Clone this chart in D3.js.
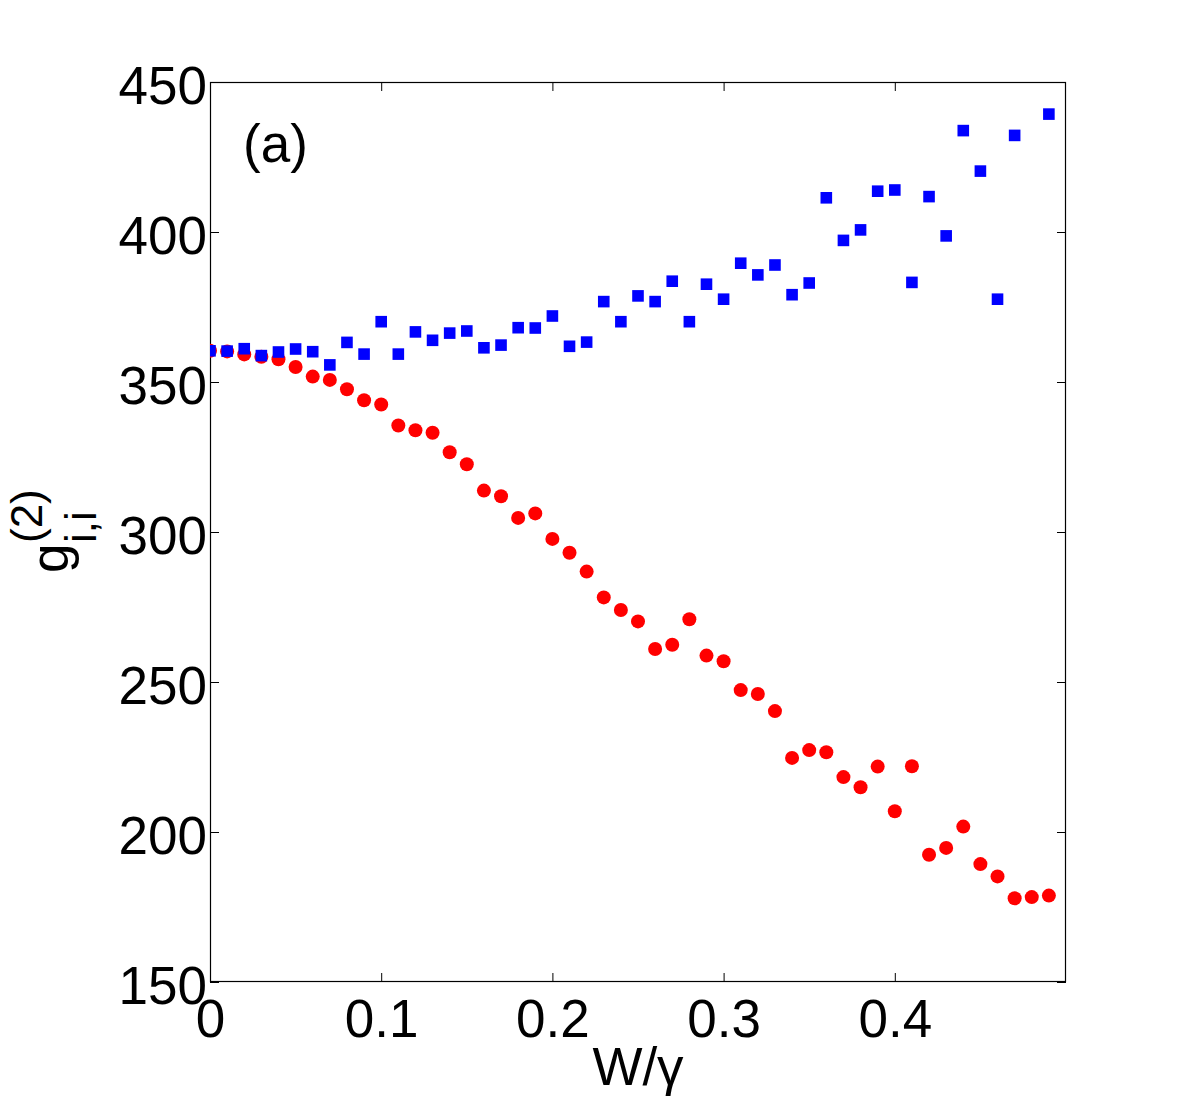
<!DOCTYPE html>
<html>
<head>
<meta charset="utf-8">
<script src="https://cdn.jsdelivr.net/npm/d3@7"></script>
<style>
  html, body { margin: 0; padding: 0; background: #fff; }
  svg { display: block; font-family: "Liberation Sans", Arial, Helvetica, sans-serif; }
</style>
</head>
<body>
<svg id="chart" width="1178" height="1104"></svg>
<script>
// ---- data ----
const xValues = [0.00, 0.01, 0.02, 0.03, 0.04, 0.05, 0.06, 0.07, 0.08, 0.09,
                 0.10, 0.11, 0.12, 0.13, 0.14, 0.15, 0.16, 0.17, 0.18, 0.19,
                 0.20, 0.21, 0.22, 0.23, 0.24, 0.25, 0.26, 0.27, 0.28, 0.29,
                 0.30, 0.31, 0.32, 0.33, 0.34, 0.35, 0.36, 0.37, 0.38, 0.39,
                 0.40, 0.41, 0.42, 0.43, 0.44, 0.45, 0.46, 0.47, 0.48, 0.49];
const blueSquares = [360.4, 360.3, 361.1, 358.8, 360.0, 361.0, 360.1, 355.7, 363.2, 359.3,
                     370.1, 359.3, 366.7, 363.9, 366.3, 367.0, 361.4, 362.3, 368.1, 368.0,
                     372.0, 361.9, 363.3, 376.8, 370.1, 378.7, 376.8, 383.6, 370.1, 382.6,
                     377.6, 389.6, 385.7, 389.0, 379.1, 383.0, 411.4, 397.2, 400.7, 413.6,
                     414.0, 383.2, 411.8, 398.7, 433.8, 420.3, 377.6, 432.2, null, 439.3];
const redCircles = [360.4, 360.2, 359.2, 358.4, 357.6, 355.0, 351.8, 350.7, 347.6, 343.9,
                    342.5, 335.5, 333.9, 333.1, 326.6, 322.6, 313.8, 311.9, 304.7, 306.2,
                    297.7, 293.1, 286.8, 278.2, 274.0, 270.2, 261.0, 262.4, 270.9, 258.8,
                    256.9, 247.3, 246.0, 240.3, 224.7, 227.3, 226.6, 218.3, 214.9, 221.8,
                    206.9, 221.9, 192.4, 194.7, 201.8, 189.3, 185.2, 177.9, 178.3, 178.8];
const xTicks = [0, 0.1, 0.2, 0.3, 0.4];
const xTickLabels = ["0", "0.1", "0.2", "0.3", "0.4"];
const yTicks = [150, 200, 250, 300, 350, 400, 450];
const xDomain = [0, 0.5];
const yDomain = [150, 450];
const panelLabel = "(a)";

// ---- layout ----
const svg = d3.select("#chart");
const L = 210, R = 1066, T = 82, B = 982;
const FS = 53;
const x = d3.scaleLinear().domain(xDomain).range([L, R]);
const y = d3.scaleLinear().domain(yDomain).range([B, T]);

svg.append("defs").append("clipPath").attr("id", "clip")
  .append("rect").attr("x", L).attr("y", T).attr("width", R - L).attr("height", B - T);

// axes
const tickLen = 9;
const gx = svg.append("g").attr("transform", `translate(0,${B})`)
  .call(d3.axisBottom(x).tickValues(xTicks).tickFormat((d, i) => xTickLabels[i])
        .tickSizeInner(-tickLen).tickSizeOuter(0).tickPadding(17));
const gxt = svg.append("g").attr("transform", `translate(0,${T})`)
  .call(d3.axisTop(x).tickValues(xTicks).tickFormat("")
        .tickSizeInner(-tickLen).tickSizeOuter(0));
const gy = svg.append("g").attr("transform", `translate(${L},0)`)
  .call(d3.axisLeft(y).tickValues(yTicks).tickFormat(d3.format("d"))
        .tickSizeInner(-tickLen).tickSizeOuter(0).tickPadding(3));
const gyr = svg.append("g").attr("transform", `translate(${R},0)`)
  .call(d3.axisRight(y).tickValues(yTicks).tickFormat("")
        .tickSizeInner(-tickLen).tickSizeOuter(0));

[gx, gxt, gy, gyr].forEach(g => {
  g.select(".domain").remove();
  g.selectAll(".tick line").attr("stroke", "#000").attr("stroke-width", 1);
  g.selectAll(".tick text").attr("fill", "#000")
    .style("font-family", '"Liberation Sans", Arial, Helvetica, sans-serif')
    .style("font-size", FS + "px");
});
gy.selectAll(".tick text").attr("dy", "0.40em");

// box
svg.append("rect").attr("x", L + 0.5).attr("y", T + 0.5)
  .attr("width", R - L - 1).attr("height", B - T - 1)
  .attr("fill", "none").attr("stroke", "#000").attr("stroke-width", 1.2);

// data marks
const plot = svg.append("g").attr("clip-path", "url(#clip)");
const redData = xValues.map((xv, i) => ({ x: xv, v: redCircles[i] })).filter(d => d.v != null);
const blueData = xValues.map((xv, i) => ({ x: xv, v: blueSquares[i] })).filter(d => d.v != null);

plot.selectAll("circle.red").data(redData).join("circle")
  .attr("class", "red")
  .attr("cx", d => x(d.x)).attr("cy", d => y(d.v)).attr("r", 7)
  .attr("fill", "#ff0000");

const sq = 11.6;
plot.selectAll("rect.blue").data(blueData).join("rect")
  .attr("class", "blue")
  .attr("x", d => x(d.x) - sq / 2).attr("y", d => y(d.v) - sq / 2)
  .attr("width", sq).attr("height", sq)
  .attr("fill", "#0000ff");

// panel label
svg.append("text").attr("x", 243).attr("y", 162)
  .style("font-size", FS + "px").attr("fill", "#000").text(panelLabel);

// x label
svg.append("text").attr("x", (L + R) / 2).attr("y", 1085)
  .attr("text-anchor", "middle").style("font-size", FS + "px").attr("fill", "#000")
  .text("W/γ");

// y label: g_{i,i}^{(2)}
const yl = svg.append("g").attr("transform", "translate(68,573) rotate(-90)");
yl.append("text").attr("x", 0).attr("y", 0).style("font-size", FS + "px").attr("fill", "#000").text("g");
yl.append("text").attr("x", 30).attr("y", 28).style("font-size", "44px").attr("fill", "#000").text("i,i");
yl.append("text").attr("x", 30).attr("y", -26).style("font-size", "44px").attr("fill", "#000").text("(2)");
</script>
</body>
</html>
